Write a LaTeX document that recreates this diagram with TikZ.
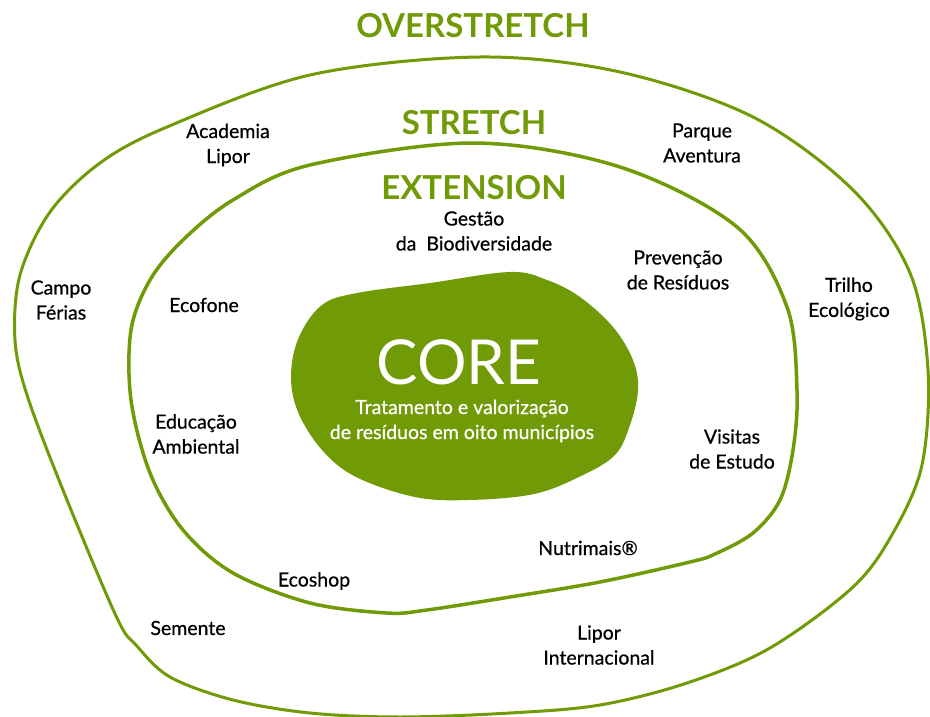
\documentclass[tikz,border=0pt]{standalone}
\usepackage{fontspec}
\setmainfont{Lato}
\newfontfamily\lblfont[FakeBold=0.6]{Lato}
\definecolor{lgreen}{RGB}{112,154,6}
\begin{document}
\begin{tikzpicture}[x=1pt,y=-1pt,
  lbl/.style={align=center,inner sep=0pt,font=\lblfont\fontsize{19.5}{25}\selectfont},
  ttl/.style={inner sep=0pt,text=lgreen,font=\fontsize{33}{33}\selectfont\bfseries},
  ring/.style={draw=lgreen,line join=round}]
\useasboundingbox (0,0) rectangle (930,717);
% outer ring
\draw[ring,line width=3pt] plot[smooth cycle,tension=0.55] coordinates {
 (480,57) (620,72) (753,117) (853,190) (910,273) (928,370) (922,465) (893,533) (853,587)
 (770,648) (687,683) (600,705) (510,713) (400,717) (310,713) (233,700) (170,677) (136,645)
 (117,618) (67,500) (28,398) (15,340) (20,275) (50,212) (100,163) (167,127) (310,75)};
% middle ring
\draw[ring,line width=3.5pt] plot[smooth cycle,tension=0.55] coordinates {
 (474,143) (620,167) (737,227) (787,307) (797,390) (793,450) (780,500) (753,533) (715,554)
 (690,562) (600,582) (510,597) (427,610) (387,613) (310,603) (233,573) (183,530) (150,473)
 (131,400) (131,330) (150,280) (183,240) (233,200) (310,165)};
% core blob
\fill[lgreen] plot[smooth cycle,tension=0.6] coordinates {
 (510,272) (547,280) (580,297) (613,327) (633,360) (638,390) (630,425) (615,455) (581,476)
 (534,494) (469,500) (415,497) (356,477) (322,450) (298,412) (291,375) (299,337) (322,305)
 (357,293) (430,283)};
% titles
\node[ttl] (over) at (473,26) {OVERSTRETCH};
\node[ttl] (str) at (474,123) {STRETCH};
\node[ttl] (ext) at (474,188) {EXTENSION};
% core
\node[inner sep=0pt,text=white,font=\fontsize{62}{62}\selectfont] (core) at (459,362) {CORE};
\node[lbl,text=white] (coret) at (462,421) {Tratamento e valorização\\de resíduos em oito municípios};
% labels
\node[lbl] (acad) at (228,145) {Academia\\Lipor};
\node[lbl] (parq) at (702,143) {Parque\\Aventura};
\node[lbl] (gest) at (474,231) {Gestão\\da\ \ Biodiversidade};
\node[lbl] (prev) at (678,270) {Prevenção\\de Resíduos};
\node[lbl] (camp) at (61,300) {Campo\\Férias};
\node[lbl] (tril) at (849,299) {Trilho\\Ecológico};
\node[lbl] (ecof) at (204,305) {Ecofone};
\node[lbl] (educ) at (196,434) {Educação\\Ambiental};
\node[lbl] (visi) at (732,449) {Visitas\\de Estudo};
\node[lbl] (nutr) at (588,548) {Nutrimais®};
\node[lbl] (ecos) at (314,581) {Ecoshop};
\node[lbl] (seme) at (188,628) {Semente};
\node[lbl] (lipi) at (599,645) {Lipor\\Internacional};
\end{tikzpicture}
\end{document}
